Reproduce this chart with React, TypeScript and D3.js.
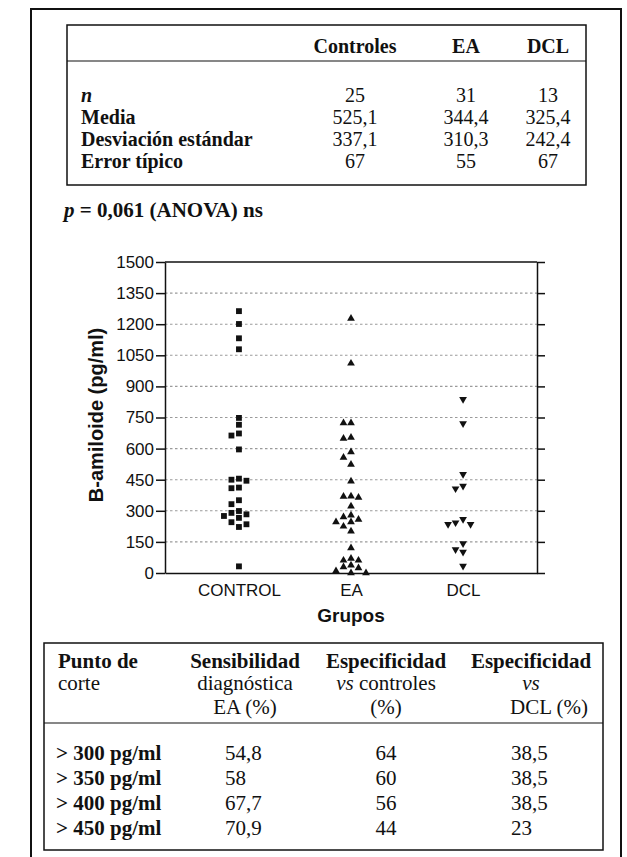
import { useEffect, useRef } from "react";
import * as d3 from "d3";

// ── Data ─────────────────────────────────────────────────────────────────
const groups = ["CONTROL", "EA", "DCL"];
const controlValues = [1263, 1201, 1132, 1079, 748, 715, 673, 663, 596, 455, 450, 445, 412, 409, 351, 332, 299, 290, 283, 275, 266, 245, 235, 222, 32];
const eaValues = [1228, 1011, 724, 724, 654, 649, 584, 557, 523, 443, 370, 369, 364, 322, 279, 270, 258, 246, 246, 225, 201, 121, 70, 61, 61, 37, 29, 24, 10, 0, 0];
const dclValues = [838, 721, 476, 420, 407, 259, 243, 235, 235, 142, 113, 101, 34];
const yTicks = [0, 150, 300, 450, 600, 750, 900, 1050, 1200, 1350, 1500];

const summaryCols = ["Controles", "EA", "DCL"];
const summaryRows = ["n", "Media", "Desviación estándar", "Error típico"];
const summaryValues = [
  ["25", "31", "13"],
  ["525,1", "344,4", "325,4"],
  ["337,1", "310,3", "242,4"],
  ["67", "55", "67"],
];

const cutPoints = ["> 300 pg/ml", "> 350 pg/ml", "> 400 pg/ml", "> 450 pg/ml"];
const sensEA = ["54,8", "58", "67,7", "70,9"];
const specControls = ["64", "60", "56", "44"];
const specDCL = ["38,5", "38,5", "38,5", "23"];

const W = 627;
const H = 857;
const SERIF = "'Liberation Serif', 'Times New Roman', serif";
const SANS = "'Liberation Sans', Arial, sans-serif";

// simple dodge: put each point in the nearest free slot (0, -1, +1, -2, ...)
function dodge(values: number[], y: (v: number) => number, gap: number) {
  const placed: { v: number; y: number; slot: number }[] = [];
  const order = [0, -1, 1, -2, 2, -3, 3];
  values.forEach((v) => {
    const py = y(v);
    const slot = order.find((k) => !placed.some((p) => p.slot === k && Math.abs(p.y - py) < gap)) ?? 0;
    placed.push({ v, y: py, slot });
  });
  return placed;
}

export default function App() {
  const ref = useRef<SVGSVGElement>(null);

  useEffect(() => {
    if (!ref.current) return;
    const svg = d3.select(ref.current);
    svg.selectAll("*").remove();

    svg.append("rect").attr("width", W).attr("height", H).attr("fill", "#fff");

    // outer frame
    svg.append("rect")
      .attr("x", 31).attr("y", 9).attr("width", 590).attr("height", 880)
      .attr("fill", "none").attr("stroke", "#111").attr("stroke-width", 2);

    // ── Summary table ──────────────────────────────────────────────────
    const t1 = svg.append("g").attr("font-family", SERIF).attr("font-size", 20).attr("fill", "#111");
    t1.append("rect")
      .attr("x", 67).attr("y", 25).attr("width", 519).attr("height", 160)
      .attr("fill", "none").attr("stroke", "#111").attr("stroke-width", 1.5);
    t1.append("line").attr("x1", 67).attr("x2", 586).attr("y1", 61).attr("y2", 61)
      .attr("stroke", "#111").attr("stroke-width", 1.2);

    const colXs = [355, 466, 548];
    summaryCols.forEach((c, i) => {
      t1.append("text").attr("x", colXs[i]).attr("y", 53)
        .attr("text-anchor", "middle").attr("font-weight", "bold").text(c);
    });
    const rowY = d3.scaleLinear().domain([0, 3]).range([102, 168]);
    summaryRows.forEach((r, i) => {
      t1.append("text").attr("x", 81).attr("y", rowY(i))
        .attr("font-weight", "bold").attr("font-style", i === 0 ? "italic" : "normal").text(r);
      summaryValues[i].forEach((v, j) => {
        t1.append("text").attr("x", colXs[j]).attr("y", rowY(i)).attr("text-anchor", "middle").text(v);
      });
    });

    // p value line
    const p = svg.append("text").attr("x", 64).attr("y", 217)
      .attr("font-family", SERIF).attr("font-size", 21).attr("font-weight", "bold").attr("fill", "#111");
    p.append("tspan").attr("font-style", "italic").text("p");
    p.append("tspan").text(" = 0,061 (ANOVA) ns");

    // ── Scatter chart ──────────────────────────────────────────────────
    const left = 165, right = 537, top = 262, bottom = 573;
    const y = d3.scaleLinear().domain([0, 1500]).range([bottom, top]);
    const x = d3.scalePoint<string>().domain(groups).range([left, right]).padding(0.66);
    const g = svg.append("g").attr("font-family", SANS);

    // dotted gridlines
    g.append("g").selectAll("line")
      .data(yTicks.filter((t) => t > 0 && t < 1500))
      .join("line")
      .attr("x1", left).attr("x2", right)
      .attr("y1", (d) => y(d)).attr("y2", (d) => y(d))
      .attr("stroke", "#9a9a9a").attr("stroke-width", 1.1).attr("stroke-dasharray", "2.5 2.5");

    // top border
    g.append("line").attr("x1", left).attr("x2", right).attr("y1", y(1500)).attr("y2", y(1500))
      .attr("stroke", "#111").attr("stroke-width", 1.5);

    g.append("g")
      .attr("transform", `translate(${left},0)`)
      .call(d3.axisLeft(y).tickValues(yTicks).tickSize(9).tickSizeOuter(0).tickPadding(2).tickFormat((d) => `${d}`))
      .call((ax) => ax.selectAll("path, line").attr("stroke", "#111").attr("stroke-width", 1.5))
      .call((ax) => ax.selectAll("text").attr("fill", "#111").attr("font-size", 17).attr("font-family", SANS));

    g.append("g")
      .attr("transform", `translate(${right},0)`)
      .call(d3.axisRight(y).tickValues(yTicks).tickSize(8).tickSizeOuter(0).tickFormat(() => ""))
      .call((ax) => ax.selectAll("path, line").attr("stroke", "#111").attr("stroke-width", 1.5));

    g.append("g")
      .attr("transform", `translate(0,${bottom})`)
      .call(d3.axisBottom(x).tickSize(0).tickSizeOuter(0).tickPadding(11))
      .call((ax) => ax.select(".domain").attr("stroke", "#111").attr("stroke-width", 1.5))
      .call((ax) => ax.selectAll("text").attr("fill", "#111").attr("font-size", 17).attr("font-family", SANS));

    // axis titles
    g.append("text")
      .attr("transform", `translate(103,415) rotate(-90)`)
      .attr("text-anchor", "middle").attr("font-size", 20).attr("font-weight", "bold").attr("fill", "#111")
      .text("B-amiloide (pg/ml)");
    g.append("text")
      .attr("x", (left + right) / 2).attr("y", 622)
      .attr("text-anchor", "middle").attr("font-size", 19).attr("font-weight", "bold").attr("fill", "#111")
      .text("Grupos");

    // markers
    const step = 7.5;
    const sq = d3.symbol(d3.symbolSquare, 34);
    const tri = d3.symbol(d3.symbolTriangle, 26);
    const series = [
      { name: "CONTROL", values: controlValues, path: sq(), rot: 0 },
      { name: "EA", values: eaValues, path: tri(), rot: 0 },
      { name: "DCL", values: dclValues, path: tri(), rot: 180 },
    ];
    series.forEach((s) => {
      const pts = dodge(s.values, y, 6.5);
      g.append("g").selectAll("path")
        .data(pts)
        .join("path")
        .attr("d", s.path)
        .attr("transform", (d) => `translate(${(x(s.name) ?? 0) + d.slot * step},${d.y}) rotate(${s.rot})`)
        .attr("fill", "#111");
    });

    // ── Cut-off table ──────────────────────────────────────────────────
    const t2 = svg.append("g").attr("font-family", SERIF).attr("font-size", 21).attr("fill", "#111");
    t2.append("rect")
      .attr("x", 44).attr("y", 643).attr("width", 559).attr("height", 207)
      .attr("fill", "none").attr("stroke", "#111").attr("stroke-width", 1.5);
    t2.append("line").attr("x1", 44).attr("x2", 603).attr("y1", 723).attr("y2", 723)
      .attr("stroke", "#111").attr("stroke-width", 1.2);

    const hY = [668, 690, 714];
    t2.append("text").attr("x", 58).attr("y", hY[0]).attr("font-weight", "bold").text("Punto de");
    t2.append("text").attr("x", 58).attr("y", hY[1]).text("corte");

    const headCols = [
      { x: [245, 245, 245], lines: [["", "Sensibilidad"], ["", "diagnóstica"], ["", "EA (%)"]] },
      { x: [386, 386, 386], lines: [["", "Especificidad"], ["vs", " controles"], ["", "(%)"]] },
      { x: [531, 531, 549], lines: [["", "Especificidad"], ["vs", ""], ["", "DCL (%)"]] },
    ];
    headCols.forEach((c) => {
      c.lines.forEach(([it, rest], i) => {
        const t = t2.append("text").attr("x", c.x[i]).attr("y", hY[i]).attr("text-anchor", "middle")
          .attr("font-weight", i === 0 ? "bold" : "normal");
        if (it) t.append("tspan").attr("font-style", "italic").text(it);
        if (rest) t.append("tspan").text(rest);
      });
    });

    const dY = d3.scaleLinear().domain([0, 3]).range([760, 835]);
    cutPoints.forEach((c, i) => {
      t2.append("text").attr("x", 56).attr("y", dY(i)).attr("font-weight", "bold").text(c);
      t2.append("text").attr("x", 225).attr("y", dY(i)).text(sensEA[i]);
      t2.append("text").attr("x", 386).attr("y", dY(i)).attr("text-anchor", "middle").text(specControls[i]);
      t2.append("text").attr("x", 511).attr("y", dY(i)).text(specDCL[i]);
    });
  }, []);

  return (
    <svg
      ref={ref}
      width={W}
      height={H}
      style={{ position: "absolute", left: 0, top: 0, display: "block" }}
    />
  );
}
